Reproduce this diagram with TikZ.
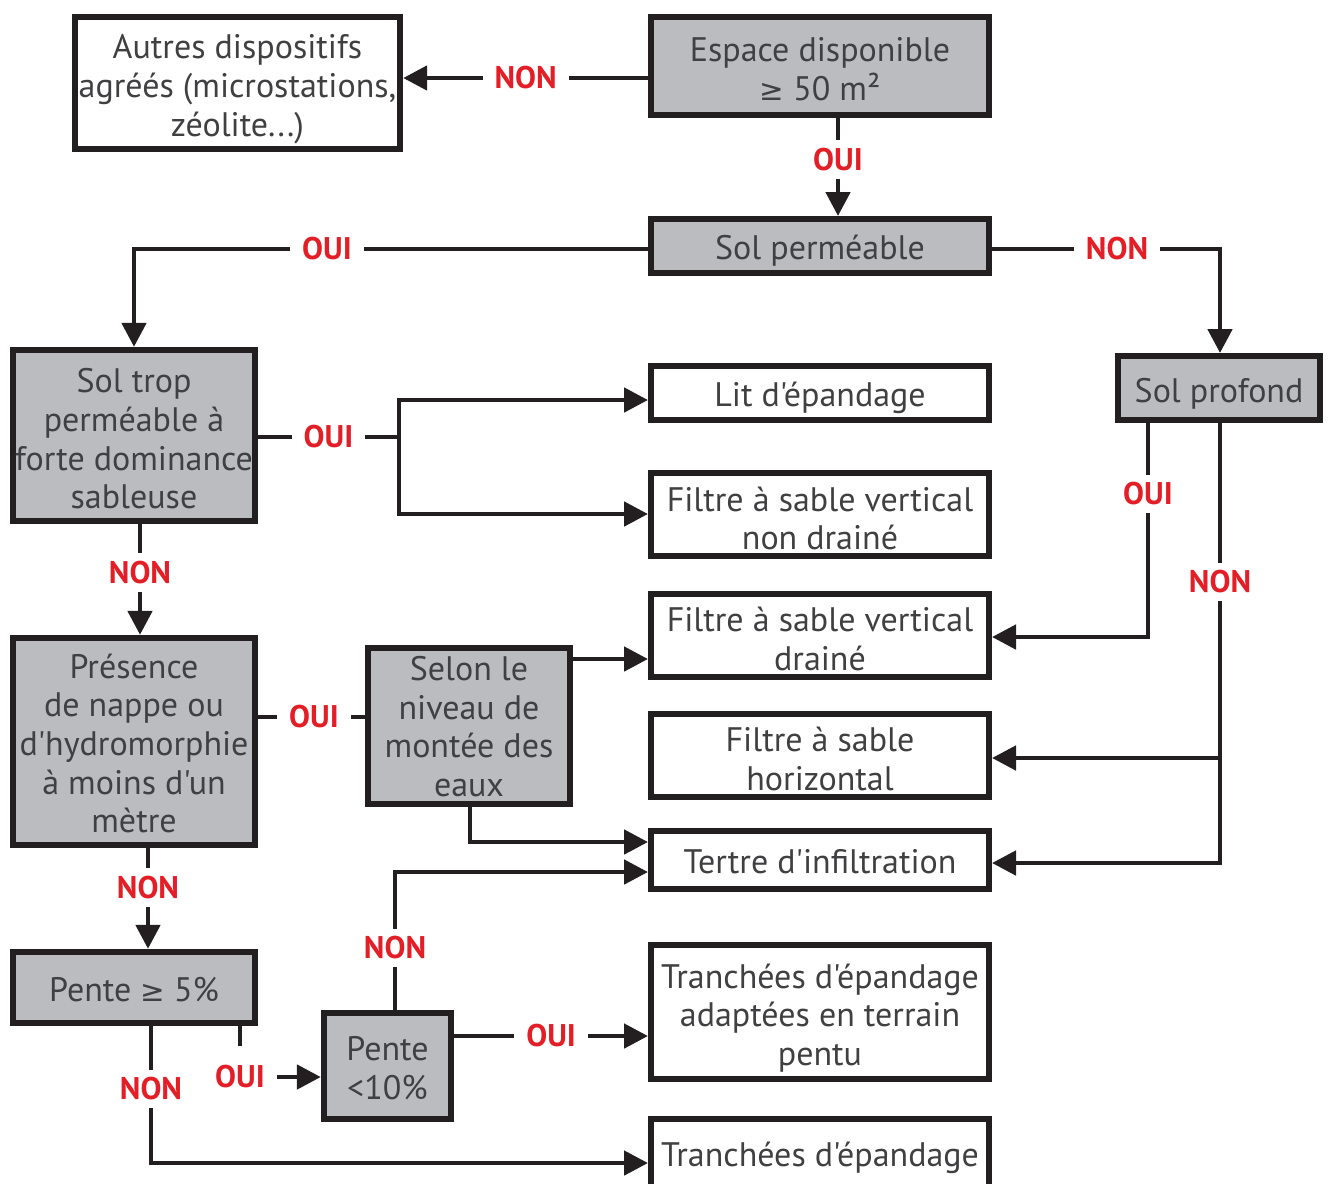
\documentclass[tikz,border=0pt]{standalone}
\usepackage{fontspec}
\setmainfont{PT Sans}[Ligatures=TeXOff]
\newfontfamily\symf{DejaVu Sans}
\usetikzlibrary{arrows.meta}
\definecolor{txtgray}{HTML}{404042}
\definecolor{boxgray}{HTML}{BBBCBF}
\definecolor{lblred}{HTML}{E31E26}
\definecolor{linek}{HTML}{231F20}
\newcommand{\mygeq}{{\symf\fontsize{22}{26}\selectfont ≥}}
% \bx{style}{width}{height}{name}{position}{text shift}{text}
\newcommand{\bx}[7]{%
  \node[#1, minimum width=#2, minimum height=#3] (#4) at #5 {};
  \node[boxtxt] (#4-t) at ([yshift=#6]#4.center) {#7};}
\tikzset{
  basebox/.style={draw=linek, line width=4.5pt, inner sep=0pt},
  gbox/.style={basebox, fill=boxgray},
  wbox/.style={basebox, fill=white},
  boxtxt/.style={align=center, text=txtgray, inner sep=0pt, font=\fontsize{25.5}{29}\selectfont},
  conn/.style={draw=linek, line width=3.6pt},
  arr/.style={conn, -{Triangle[length=18pt,width=18pt]}},
  lbl/.style={fill=white, text=lblred, font=\fontsize{23.5}{26}\selectfont\bfseries, inner xsep=9pt, inner ysep=6pt},
}
\begin{document}
\begin{tikzpicture}[x=0.75pt,y=-0.75pt]
\useasboundingbox (0,0) rectangle (1333,1183);
% boxes
\bx{wbox}{244pt}{99pt}{autres}{(237.5,83)}{-4.5pt}{Autres dispositifs\\agréés (microstations,\\zéolite...)}
\bx{gbox}{253.5pt}{73.5pt}{espace}{(820,66)}{-2.5pt}{Espace disponible\\\mygeq{} 50 m²}
\bx{gbox}{253.5pt}{40.5pt}{solperm}{(820,246)}{-3.5pt}{Sol perméable}
\bx{gbox}{181.5pt}{128.5pt}{soltrop}{(134,435.5)}{-2.5pt}{Sol trop\\perméable à\\forte dominance\\sableuse}
\bx{wbox}{253.5pt}{40.5pt}{lit}{(820,393)}{-3.5pt}{Lit d'épandage}
\bx{wbox}{253.5pt}{62.5pt}{fnd}{(820,514.5)}{-3pt}{Filtre à sable vertical\\non drainé}
\bx{wbox}{253.5pt}{62.5pt}{fd}{(820,635.5)}{-2.5pt}{Filtre à sable vertical\\drainé}
\bx{wbox}{253.5pt}{62.5pt}{fh}{(820,755.5)}{-2.5pt}{Filtre à sable\\horizontal}
\bx{wbox}{253.5pt}{43.5pt}{tertre}{(820,860)}{-1.5pt}{Tertre d'infiltration}
\bx{wbox}{253.5pt}{100.5pt}{tadapt}{(820,1012)}{-4.5pt}{Tranchées d'épandage\\adaptées en terrain\\pentu}
\bx{wbox}{253.5pt}{57pt}{tranch}{(820,1157)}{-0.5pt}{Tranchées d'épandage}
\bx{gbox}{151.5pt}{48pt}{solprof}{(1219,388)}{-4.5pt}{Sol profond}
\bx{gbox}{181.5pt}{155.5pt}{presence}{(134,741.5)}{-1.5pt}{Présence\\de nappe ou\\d'hydromorphie\\à moins d'un\\mètre}
\bx{gbox}{151.5pt}{117pt}{selon}{(469,726)}{-0.5pt}{Selon le\\niveau de\\montée des\\eaux}
\bx{gbox}{181.5pt}{53.5pt}{pente5}{(134,987.5)}{-1.5pt}{Pente \mygeq{} 5\%}
\bx{gbox}{95.5pt}{79.5pt}{pente10}{(387.5,1066)}{-1.5pt}{Pente\\<10\%}
% split coordinates
\coordinate (s1) at (399,437);
\coordinate (s2) at (1220,758);
\coordinate (c1) at (134,249);
\coordinate (c2) at (1220,249);
\coordinate (c3) at (151,1163);
\coordinate (c4) at (240,1077);
\coordinate (c5) at (395,872);
\coordinate (c6) at (470,842);
% connectors
\draw[arr] (espace.west |- 0,78) -- node[lbl] (l1) {NON} (autres.east |- 0,78);
\draw[arr] (espace.south -| 838,0) -- node[lbl, pos=0.42] (l2) {OUI} (solperm.north -| 838,0);
\draw[arr] (solperm.west |- c1) -- (c1) -- (soltrop.north);
\node[lbl] (l3) at (327,249) {OUI};
\draw[arr] (solperm.east |- c2) -- (c2) -- (solprof.north -| c2);
\node[lbl] (l4) at (1117,249) {NON};
\draw[conn] (soltrop.east |- s1) -- node[lbl] (l5) {OUI} (s1);
\draw[arr] (s1) |- (lit.west |- 0,400);
\draw[arr] (s1) |- (fnd.west |- 0,514);
\draw[arr] (soltrop.south -| 140,0) -- node[lbl, pos=0.44] (l6) {NON} (presence.north -| 140,0);
\draw[arr] (solprof.south -| 1148,0) |- (fd.east |- 0,637);
\node[lbl] (l7) at (1148,494) {OUI};
\draw[arr] (solprof.south -| s2) |- (tertre.east |- 0,863);
\draw[arr] (s2) -- (fh.east |- s2);
\node[lbl] (l8) at (1220,582) {NON};
\draw[conn] (presence.east |- 0,717) -- (selon.west |- 0,717);
\node[lbl] (l9) at (314,717) {OUI};
\draw[arr] (selon.east |- 0,659) -- (fd.west |- 0,659);
\draw[arr] (selon.south -| c6) -- (c6) -- (tertre.west |- c6);
\draw[arr] (presence.south -| 148,0) -- node[lbl, pos=0.39] (l10) {NON} (pente5.north -| 148,0);
\draw[arr] (pente5.south -| c3) -- (c3) -- (tranch.west |- c3);
\node[lbl] (l11) at (151,1089) {NON};
\draw[arr] (pente5.south -| c4) -- (c4) -- (pente10.west |- c4);
\node[lbl, minimum height=46pt, minimum width=54pt] (l12) at (240,1077) {OUI};
\draw[arr] (pente10.north -| c5) -- (c5) -- (tertre.west |- c5);
\node[lbl] (l13) at (395,948) {NON};
\draw[arr] (pente10.east |- 0,1036) -- node[lbl] (l14) {OUI} (tadapt.west |- 0,1036);
\end{tikzpicture}
\end{document}
